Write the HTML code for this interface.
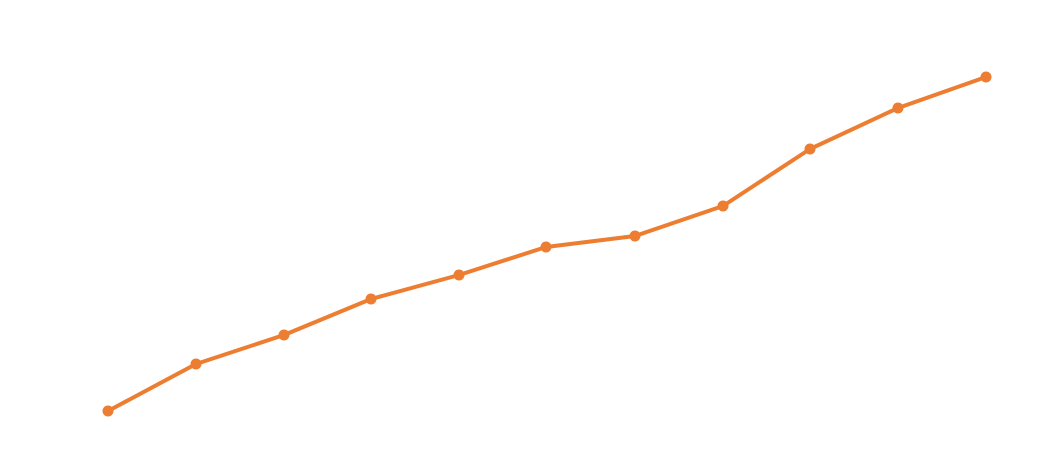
<!DOCTYPE html>
<html><head><style>html,body{margin:0;padding:0;background:#fff;}</style></head>
<body>
<svg width="1052" height="465" viewBox="0 0 1052 465" xmlns="http://www.w3.org/2000/svg">
<polyline fill="none" stroke="#ED7D31" stroke-width="4" stroke-linejoin="round" stroke-linecap="round"
points="108,411 196,364 284,335 371,299 459,275 546,247 635,236 723,206 810,149 898,108 986,77"/>
<g fill="#ED7D31">
<circle cx="108" cy="411" r="5.5"/><circle cx="196" cy="364" r="5.5"/><circle cx="284" cy="335" r="5.5"/>
<circle cx="371" cy="299" r="5.5"/><circle cx="459" cy="275" r="5.5"/><circle cx="546" cy="247" r="5.5"/>
<circle cx="635" cy="236" r="5.5"/><circle cx="723" cy="206" r="5.5"/><circle cx="810" cy="149" r="5.5"/>
<circle cx="898" cy="108" r="5.5"/><circle cx="986" cy="77" r="5.5"/>
</g>
</svg>
</body></html>
